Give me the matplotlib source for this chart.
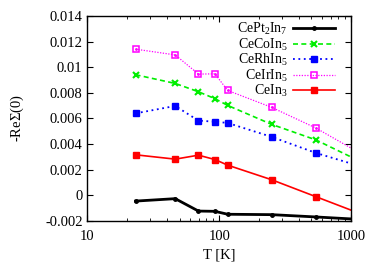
import matplotlib
matplotlib.use("Agg")
import matplotlib.pyplot as plt
from matplotlib.ticker import LogLocator, NullFormatter, FixedLocator, FixedFormatter

plt.rcParams['font.family'] = ['Liberation Serif', 'DejaVu Serif']
plt.rcParams['mathtext.fontset'] = 'custom'
plt.rcParams['mathtext.rm'] = 'Liberation Serif'
plt.rcParams['mathtext.it'] = 'Liberation Serif:italic'

T = [23.2, 46.4, 69.6, 92.8, 116, 250, 540, 1160]
cept2in7 = [-0.00047, -0.00028, -0.00125, -0.00127, -0.00150, -0.00153, -0.00171, -0.0019]
cecoin5 = [0.00941, 0.00873, 0.00808, 0.00754, 0.00701, 0.00553, 0.00432, 0.00266]
cerhin5 = [0.00639, 0.00697, 0.00582, 0.00574, 0.00564, 0.00455, 0.00330, 0.00227]
ceirin5 = [0.01141, 0.01096, 0.00946, 0.00948, 0.00818, 0.00686, 0.00525, 0.0033]
cein3 = [0.00315, 0.00281, 0.00312, 0.00278, 0.00234, 0.00120, -0.00012, -0.00143]

labels = ['CePt$_2$In$_7$', 'CeCoIn$_5$', 'CeRhIn$_5$', 'CeIrIn$_5$', 'CeIn$_3$']
yticks = [-0.002, 0, 0.002, 0.004, 0.006, 0.008, 0.01, 0.012, 0.014]
ytick_labels = ['-0.002', '0', '0.002', '0.004', '0.006', '0.008', '0.01', '0.012', '0.014']
xticks = [10, 100, 1000]
xtick_labels = ['10', '100', '1000']

fig = plt.figure(figsize=(3.75, 2.63), dpi=100)
ax = fig.add_axes([0.233, 0.161, 0.703, 0.778])

ax.plot(T, cept2in7, color='black', lw=2.0, ls='-', marker='o', ms=2.5, label=labels[0])
ax.plot(T, cecoin5, color='#00ee00', lw=1.2, ls=(0, (3, 2)), marker='x', ms=4, mew=1.5, label=labels[1])
ax.plot(T, cerhin5, color='#0000ff', lw=1.3, ls=(0, (1, 2)), marker='s', ms=4, label=labels[2])
ax.plot(T, ceirin5, color='#ff00ff', lw=0.9, ls=(0, (1, 1.2)), marker='s', ms=5, mfc='none', mew=1.1, label=labels[3])
ax.plot(T, cein3, color='#ff0000', lw=1.2, ls='-', marker='s', ms=4, label=labels[4])
ax.plot(T, ceirin5, color='#ff00ff', ls='none', marker='.', ms=2)

ax.set_xscale('log')
ax.set_xlim(10, 1000)
ax.set_ylim(-0.002, 0.014)
ax.yaxis.set_major_locator(FixedLocator(yticks))
ax.yaxis.set_major_formatter(FixedFormatter(ytick_labels))
ax.xaxis.set_major_locator(FixedLocator(xticks))
ax.xaxis.set_major_formatter(FixedFormatter(xtick_labels))
ax.xaxis.set_minor_locator(LogLocator(base=10, subs=range(2, 10)))
ax.xaxis.set_minor_formatter(NullFormatter())
ax.tick_params(which='both', direction='in', top=True, right=True, labelsize=10.5)
ax.tick_params(which='major', length=4)
ax.tick_params(which='minor', length=2)
ax.tick_params(axis='x', pad=7)
for s in ax.spines.values():
    s.set_linewidth(1.0)

ax.set_xlabel('T [K]', fontsize=10.5, labelpad=4)
ax.set_ylabel('-Re$\\Sigma$(0)', fontsize=10.5, labelpad=14)

ax.legend(loc='upper right', frameon=False, markerfirst=False, fontsize=10,
          handlelength=3, handletextpad=0.4, labelspacing=-0.05,
          borderaxespad=0.2, bbox_to_anchor=(0.97, 1.015))

fig.savefig('out.png', dpi=100)
